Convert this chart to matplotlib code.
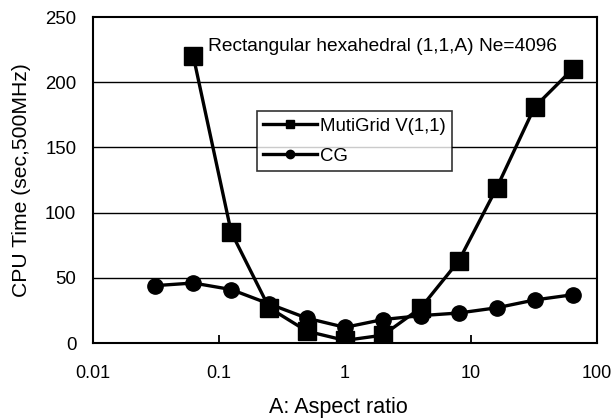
import matplotlib
matplotlib.use("Agg")
import matplotlib.pyplot as plt
from matplotlib.ticker import FixedLocator, FixedFormatter, NullLocator

plt.rcParams['font.family'] = ['Liberation Sans', 'DejaVu Sans']

mg_x = [0.0625, 0.125, 0.25, 0.5, 1, 2, 4, 8, 16, 32, 64]
mg_y = [220, 85, 27, 9, 2, 6, 27, 63, 119, 181, 210]
cg_x = [0.03125, 0.0625, 0.125, 0.25, 0.5, 1, 2, 4, 8, 16, 32, 64]
cg_y = [44, 46, 41, 30, 19, 12, 18, 21, 23, 27, 33, 37]
xticks = [0.01, 0.1, 1, 10, 100]
xtick_labels = ["0.01", "0.1", "1", "10", "100"]
yticks = [0, 50, 100, 150, 200, 250]

FS = 13.4
TFS = 13.0

fig = plt.figure(figsize=(6.13, 4.19), dpi=100)
L, R, T, B = 93, 597, 17, 343
W, H = 613, 419
ax = fig.add_axes([L/W, 1-B/H, (R-L)/W, (B-T)/H])

def ax_x(px):
    return (px - L) / (R - L)

def ax_y(py):
    return (B - py) / (B - T)

ax.set_xscale('log')
ax.set_xlim(0.01, 100)
ax.set_ylim(0, 250)

for v in yticks[1:-1]:
    ax.axhline(v, color='black', lw=1.0, zorder=1)

ax.plot(mg_x, mg_y, color='black', lw=2.4, marker='s', ms=13.5,
        mfc='black', mec='black', label='MutiGrid V(1,1)', zorder=3)
ax.plot(cg_x, cg_y, color='black', lw=2.4, marker='o', ms=11,
        mfc='black', mec='black', label='CG', zorder=3)

ax.xaxis.set_major_locator(FixedLocator(xticks))
ax.xaxis.set_major_formatter(FixedFormatter(xtick_labels))
ax.xaxis.set_minor_locator(NullLocator())
ax.set_yticks(yticks)
ax.tick_params(axis='x', direction='in', length=6, width=1.3, labelsize=TFS,
               pad=16, top=False)
ax.tick_params(axis='y', length=0, labelsize=FS, pad=12)

for s in ax.spines.values():
    s.set_linewidth(1.5)
    s.set_color('black')

ax.set_xlabel('A: Aspect ratio', fontsize=15.5)
ax.set_ylabel('CPU Time (sec,500MHz)', fontsize=15.2)
ax.xaxis.set_label_coords(ax_x(338), ax_y(407))
ax.xaxis.label.set_va('center')
ax.yaxis.set_label_coords(ax_x(22), ax_y(180))
ax.yaxis.label.set_va('center')

ax.text(0.082, 227, 'Rectangular hexahedral (1,1,A) Ne=4096', fontsize=13.8,
        va='center', ha='left')

leg = ax.legend(loc='upper left', bbox_to_anchor=(ax_x(257), ax_y(111)),
                fontsize=FS, frameon=True, fancybox=False, edgecolor='black',
                handlelength=2.95, handletextpad=0.16, borderpad=0.3,
                labelspacing=0.65, borderaxespad=0, handleheight=0.9)
leg.get_frame().set_linewidth(1.2)
leg.set_zorder(5)
hs = leg.legend_handles
hs[0].set_markersize(6)
hs[1].set_markersize(6)

fig.savefig('out.png', dpi=100)
